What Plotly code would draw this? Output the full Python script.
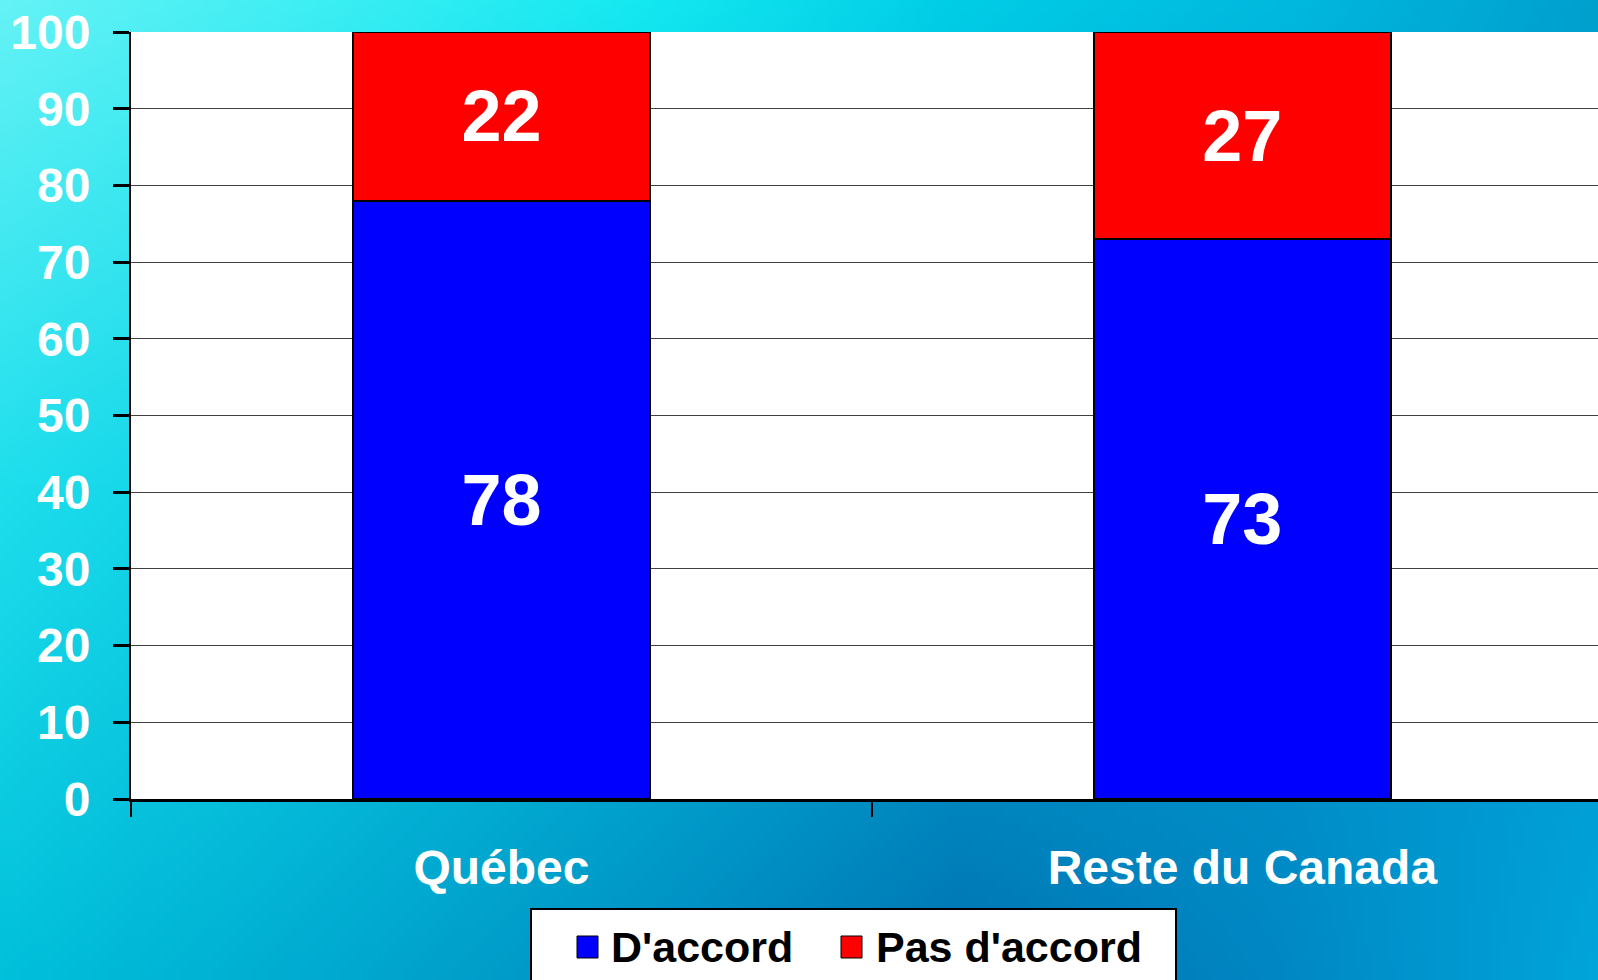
import base64
import struct
import zlib

import plotly.graph_objects as go

# ---- data ----
categories = ["Québec", "Reste du Canada"]
series_names = ["D'accord", "Pas d'accord"]
series_colors = ["#0000ff", "#ff0000"]
accord = [78, 73]
pas_accord = [22, 27]
y_ticks = [0, 10, 20, 30, 40, 50, 60, 70, 80, 90, 100]

# ---- background gradient (decorative) ----
grid = [
    [(100, 242, 245), (60, 238, 243), (20, 232, 240), (0, 205, 230), (0, 185, 222), (0, 160, 205)],
    [(30, 222, 236), (10, 205, 228), (0, 185, 220), (0, 165, 210), (0, 150, 205), (0, 150, 208)],
    [(0, 192, 218), (0, 170, 208), (0, 145, 195), (0, 115, 178), (0, 135, 195), (0, 165, 218)],
]


def make_png(w, h):
    rows = len(grid)
    cols = len(grid[0])
    raw = bytearray()
    for j in range(h):
        raw.append(0)
        fy = j / (h - 1) * (rows - 1)
        r0 = min(int(fy), rows - 2)
        ty = fy - r0
        for i in range(w):
            fx = i / (w - 1) * (cols - 1)
            c0 = min(int(fx), cols - 2)
            tx = fx - c0
            px = []
            for k in range(3):
                a = grid[r0][c0][k] * (1 - tx) + grid[r0][c0 + 1][k] * tx
                b = grid[r0 + 1][c0][k] * (1 - tx) + grid[r0 + 1][c0 + 1][k] * tx
                px.append(int(round(a * (1 - ty) + b * ty)))
            raw.extend(px)

    def chunk(tag, data):
        c = struct.pack(">I", len(data)) + tag + data
        return c + struct.pack(">I", zlib.crc32(tag + data) & 0xFFFFFFFF)

    png = b"\x89PNG\r\n\x1a\n"
    png += chunk(b"IHDR", struct.pack(">IIBBBBB", w, h, 8, 2, 0, 0, 0))
    png += chunk(b"IDAT", zlib.compress(bytes(raw), 9))
    png += chunk(b"IEND", b"")
    return "data:image/png;base64," + base64.b64encode(png).decode()


W, H = 1598, 980
ML, MR, MT, MB = 131, 0, 32, 181
PW, PH = W - ML - MR, H - MT - MB


def px_x(p):
    return (p - ML) / PW


def px_y(p):
    return (MT + PH - p) / PH


bg_uri = make_png(200, 123)

FONT = "Liberation Sans, Arial, sans-serif"

fig = go.Figure()
for name, vals, col in [(series_names[0], accord, series_colors[0]),
                        (series_names[1], pas_accord, series_colors[1])]:
    fig.add_trace(go.Bar(
        name=name, x=categories, y=vals,
        marker=dict(color=col, line=dict(color="black", width=2)),
        text=[str(v) for v in vals], textposition="inside", insidetextanchor="middle",
        textfont=dict(family=FONT, size=72, color="white", weight="bold"),
        width=0.4, showlegend=False,
    ))

shapes = [
    # white plot area above the background image
    dict(type="rect", xref="paper", yref="paper", x0=0, x1=1, y0=0, y1=1,
         fillcolor="white", line=dict(width=0), layer="below"),
    # legend box
    dict(type="rect", xref="paper", yref="paper",
         x0=px_x(531), x1=px_x(1176), y0=px_y(1010), y1=px_y(909),
         fillcolor="white", line=dict(color="black", width=2), layer="above"),
]
annotations = []
legend_items = [(577, 609), (841, 874)]
for (sx, tx), name, col in zip(legend_items, series_names, series_colors):
    shapes.append(dict(type="rect", xref="paper", yref="paper",
                       x0=px_x(sx), x1=px_x(sx + 21), y0=px_y(958), y1=px_y(936),
                       fillcolor=col, line=dict(color="black", width=1), layer="above"))
    annotations.append(dict(text=name, xref="paper", yref="paper",
                            x=px_x(tx), y=px_y(947), xanchor="left", yanchor="middle",
                            showarrow=False,
                            font=dict(family=FONT, size=43, color="black", weight="bold")))

fig.update_layout(
    width=W, height=H,
    margin=dict(l=ML, r=MR, t=MT, b=MB, pad=0),
    barmode="stack",
    paper_bgcolor="#20c8e0",
    plot_bgcolor="white",
    images=[dict(
        source=bg_uri, xref="paper", yref="paper",
        x=-ML / PW, y=1 + MT / PH, sizex=W / PW, sizey=H / PH,
        xanchor="left", yanchor="top", sizing="stretch", layer="below",
    )],
    shapes=shapes,
    annotations=annotations,
    xaxis=dict(
        range=[-0.5, 1.48],
        tickson="boundaries",
        ticks="outside", ticklen=15, tickwidth=2, tickcolor="black",
        showline=True, linecolor="black", linewidth=3,
        showgrid=False, zeroline=False,
        tickfont=dict(family=FONT, size=48, color="white", weight="bold"),
        ticklabelstandoff=24,
    ),
    yaxis=dict(
        range=[0, 100], tickvals=y_ticks,
        ticks="outside", ticklen=16, tickwidth=3, tickcolor="black",
        showline=True, linecolor="black", linewidth=2,
        showgrid=True, gridcolor="#404040", gridwidth=1.2,
        zeroline=False,
        tickfont=dict(family=FONT, size=48, color="white", weight="bold"),
        ticklabelstandoff=13,
    ),
    showlegend=False,
)

fig.write_html(
    "out.html",
    config={"displayModeBar": False},
    post_script="document.body.style.margin='0';document.body.style.overflow='hidden';",
)
